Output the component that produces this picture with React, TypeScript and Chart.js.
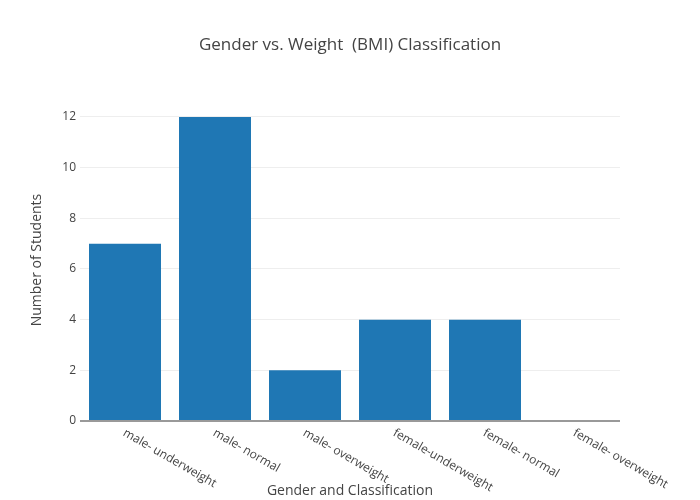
import React, { useEffect, useRef } from "react";
import { Chart, registerables } from "chart.js";

Chart.register(...registerables);

const categories = [
  "male- underweight",
  "male- normal",
  "male- overweight",
  "female-underweight",
  "female- normal",
  "female- overweight",
];
const studentCounts = [7, 12, 2, 4, 4, 0];
const chartTitle = "Gender vs. Weight  (BMI) Classification";
const xTitle = "Gender and Classification";
const yTitle = "Number of Students";

const FONT = "'Open Sans', 'DejaVu Sans', sans-serif";

export default function App() {
  const ref = useRef<HTMLCanvasElement | null>(null);

  useEffect(() => {
    if (!ref.current) return;
    const textPlugin = {
      id: "plotlyText",
      afterDraw(chart: any) {
        const ctx = chart.ctx;
        const xs = chart.scales.x;
        ctx.save();
        ctx.fillStyle = "#444";
        // title
        ctx.font = `17px ${FONT}`;
        ctx.textAlign = "center";
        ctx.textBaseline = "middle";
        ctx.fillText(chartTitle, 350, 45);
        // x labels rotated
        ctx.font = `12px ${FONT}`;
        categories.forEach((c, i) => {
          const px = xs.getPixelForValue(i);
          ctx.save();
          ctx.translate(px - 1, 432);
          ctx.rotate((30 * Math.PI) / 180);
          ctx.textAlign = "left";
          ctx.textBaseline = "middle";
          ctx.fillText(c, 0, 0);
          ctx.restore();
        });
        // axis titles
        ctx.font = `14px ${FONT}`;
        ctx.textAlign = "center";
        ctx.textBaseline = "middle";
        ctx.fillText(xTitle, 350, 491);
        ctx.save();
        ctx.translate(37, 260);
        ctx.rotate(-Math.PI / 2);
        ctx.fillText(yTitle, 0, 0);
        ctx.restore();
        ctx.restore();
      },
    };

    const chart = new Chart(ref.current, {
      type: "bar",
      data: {
        labels: categories,
        datasets: [
          {
            data: studentCounts,
            backgroundColor: "#1f77b4",
            categoryPercentage: 1,
            barPercentage: 0.8,
          },
        ],
      },
      options: {
        responsive: false,
        animation: false,
        layout: { padding: { top: 101, right: 80, left: 0, bottom: 0 } },
        plugins: {
          legend: { display: false },
          title: { display: false },
          tooltip: { enabled: false },
        },
        scales: {
          x: {
            grid: { display: false },
            border: { display: false },
            ticks: { display: false },
            afterFit(scale: any) {
              scale.height = 79;
            },
          },
          y: {
            min: 0,
            max: 12.63,
            border: { display: false },
            grid: {
              drawTicks: false,
              color: (c: any) => (c.tick && c.tick.value === 0 ? "#999" : "#eee"),
              lineWidth: (c: any) => (c.tick && c.tick.value === 0 ? 2 : 1),
            },
            ticks: {
              stepSize: 2,
              includeBounds: false,
              padding: 4,
              color: "#444",
              font: { family: FONT, size: 12 },
            },
            afterFit(scale: any) {
              scale.width = 80;
            },
          },
        },
      },
      plugins: [textPlugin],
    });
    return () => chart.destroy();
  }, []);

  return (
    <div style={{ position: "absolute", left: 0, top: 0, width: 700, height: 500, background: "#fff" }}>
      <canvas ref={ref} width={700} height={500} />
    </div>
  );
}
